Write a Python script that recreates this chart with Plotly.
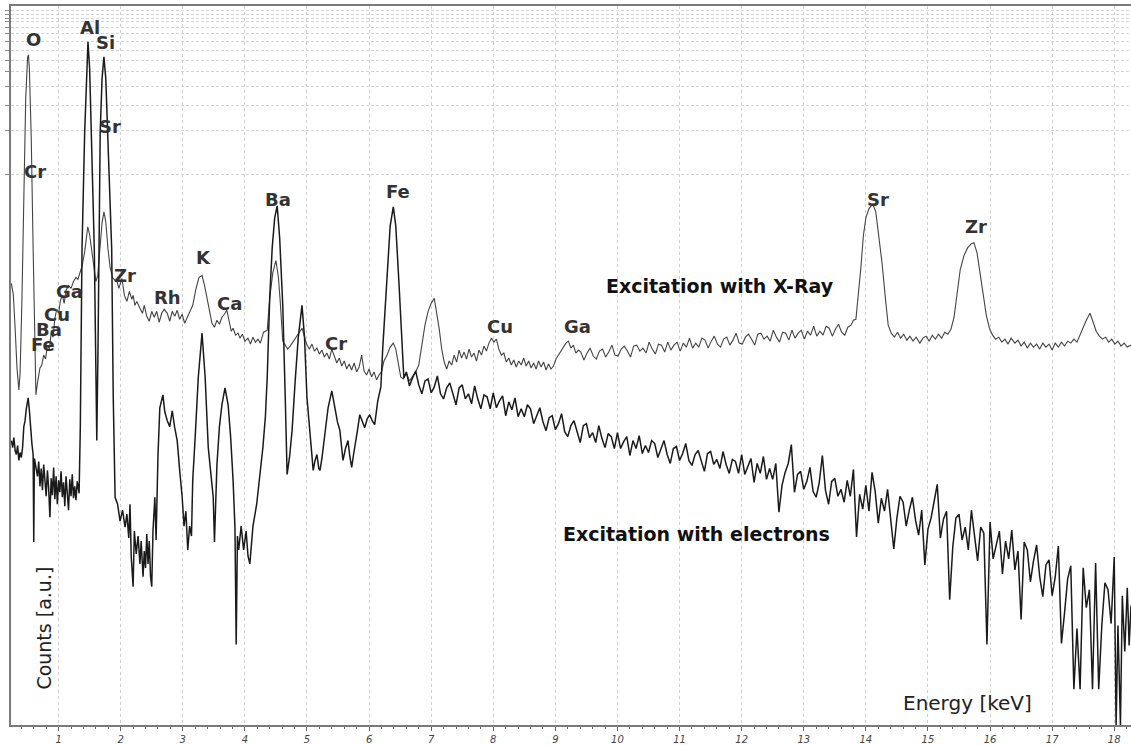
import plotly.graph_objects as go

# ---------------- data (energy in keV, counts in arbitrary units) ----------------
xray_energy = [
    0.24, 0.27, 0.30, 0.33, 0.36, 0.38, 0.41, 0.44, 0.47, 0.50, 0.515, 0.53, 0.56, 0.59, 0.61, 0.635,
    0.66, 0.70, 0.73, 0.76, 0.79, 0.82, 0.85, 0.88, 0.91, 0.94, 0.97, 1.00, 1.03, 1.06, 1.09, 1.12,
    1.16, 1.20, 1.24, 1.28, 1.31, 1.34, 1.38, 1.42, 1.45, 1.47, 1.50, 1.53, 1.56, 1.60, 1.63, 1.667,
    1.70, 1.73, 1.76, 1.795, 1.83, 1.87, 1.91, 1.94, 1.97, 2.02, 2.06, 2.10, 2.14, 2.18, 2.20, 2.23,
    2.26, 2.31, 2.35, 2.38, 2.42, 2.46, 2.50, 2.54, 2.58, 2.62, 2.66, 2.70, 2.75, 2.79, 2.83, 2.87,
    2.91, 2.95, 2.99, 3.03, 3.07, 3.11, 3.16, 3.21, 3.26, 3.31, 3.35, 3.39, 3.43, 3.47, 3.51, 3.55,
    3.59, 3.63, 3.67, 3.71, 3.74, 3.78, 3.81, 3.85, 3.89, 3.92, 3.96, 4.00, 4.05, 4.09, 4.13, 4.17,
    4.21, 4.25, 4.30, 4.36, 4.40, 4.45, 4.50, 4.54, 4.57, 4.61, 4.65, 4.69, 4.73, 4.78, 4.84, 4.92,
    4.97, 5.00, 5.04, 5.08, 5.12, 5.16, 5.20, 5.24, 5.28, 5.32, 5.36, 5.40, 5.44, 5.48, 5.52, 5.56,
    5.60, 5.64, 5.68, 5.72, 5.76, 5.80, 5.84, 5.88, 5.92, 5.96, 6.00, 6.04, 6.08, 6.12, 6.16, 6.20,
    6.24, 6.29, 6.34, 6.39, 6.43, 6.47, 6.51, 6.55, 6.60, 6.65, 6.70, 6.75, 6.80, 6.85, 6.90, 6.95,
    7.00, 7.05, 7.09, 7.13, 7.17, 7.21, 7.25, 7.29, 7.33, 7.37, 7.41, 7.45, 7.49, 7.53, 7.57, 7.61,
    7.65, 7.69, 7.73, 7.77, 7.81, 7.85, 7.89, 7.93, 7.97, 8.01, 8.05, 8.09, 8.13, 8.17, 8.21, 8.25,
    8.29, 8.33, 8.37, 8.41, 8.45, 8.49, 8.53, 8.57, 8.61, 8.65, 8.69, 8.73, 8.77, 8.81, 8.85, 8.89,
    8.93, 8.97, 9.01, 9.05, 9.09, 9.13, 9.17, 9.21, 9.25, 9.29, 9.33, 9.37, 9.41, 9.46, 9.51, 9.56,
    9.61, 9.66, 9.71, 9.76, 9.81, 9.86, 9.91, 9.96, 10.01, 10.06, 10.11, 10.16, 10.21, 10.26, 10.31, 10.36,
    10.41, 10.46, 10.51, 10.56, 10.61, 10.66, 10.71, 10.76, 10.81, 10.86, 10.91, 10.96, 11.01, 11.06, 11.11, 11.16,
    11.21, 11.26, 11.31, 11.36, 11.41, 11.46, 11.51, 11.56, 11.61, 11.66, 11.71, 11.76, 11.81, 11.86, 11.91, 11.96,
    12.01, 12.06, 12.11, 12.16, 12.21, 12.26, 12.31, 12.36, 12.41, 12.46, 12.51, 12.56, 12.61, 12.66, 12.71, 12.76,
    12.81, 12.86, 12.91, 12.96, 13.01, 13.06, 13.11, 13.16, 13.21, 13.26, 13.31, 13.36, 13.41, 13.46, 13.51, 13.56,
    13.61, 13.66, 13.71, 13.76, 13.80, 13.84, 13.88, 13.92, 13.96, 14.00, 14.05, 14.11, 14.16, 14.21, 14.26, 14.31,
    14.36, 14.41, 14.46, 14.51, 14.56, 14.61, 14.66, 14.71, 14.76, 14.81, 14.87, 14.92, 14.97, 15.02, 15.07, 15.12,
    15.17, 15.22, 15.27, 15.32, 15.37, 15.42, 15.47, 15.52, 15.58, 15.64, 15.70, 15.74, 15.79, 15.84, 15.89, 15.94,
    15.99, 16.04, 16.09, 16.14, 16.19, 16.24, 16.29, 16.34, 16.40, 16.45, 16.50, 16.55, 16.60, 16.65, 16.70, 16.75,
    16.80, 16.85, 16.90, 16.95, 17.00, 17.05, 17.10, 17.15, 17.20, 17.25, 17.30, 17.35, 17.40, 17.45, 17.50, 17.55,
    17.61, 17.66, 17.71, 17.76, 17.81, 17.86, 17.91, 17.96, 18.01, 18.06, 18.11, 18.16, 18.21, 18.27,
]
xray_counts = [
    444, 433, 399, 359, 337, 354, 429, 539, 629, 671, 674, 659, 589, 479, 399, 332,
    344, 359, 362, 372, 368, 382, 378, 394, 390, 409, 418, 414, 427, 432, 424, 437,
    442, 439, 446, 450, 448, 454, 462, 476, 492, 501, 493, 478, 462, 446, 452, 479,
    505, 516, 506, 479, 460, 450, 447, 446, 439, 449, 432, 426, 436, 428, 432, 422,
    426, 419, 414, 422, 411, 406, 416, 410, 416, 405, 414, 418, 414, 406, 416, 411,
    417, 408, 413, 404, 409, 415, 422, 438, 450, 452, 442, 429, 413, 404, 400, 407,
    403, 410, 413, 417, 408, 396, 399, 392, 394, 389, 393, 386, 389, 383, 390, 385,
    388, 384, 395, 397, 429, 455, 467, 450, 425, 386, 382, 378, 381, 386, 392, 399,
    388, 382, 378, 383, 376, 379, 373, 377, 370, 374, 368, 378, 371, 364, 369, 361,
    366, 358, 363, 357, 364, 355, 360, 372, 356, 352, 358, 350, 355, 347, 352, 355,
    366, 372, 380, 384, 378, 365, 350, 348, 354, 346, 351, 355, 362, 384, 402, 416,
    424, 429, 414, 398, 378, 365, 358, 366, 362, 372, 365, 377, 369, 375, 368, 378,
    370, 374, 366, 377, 372, 381, 376, 384, 389, 385, 388, 378, 372, 374, 365, 369,
    362, 367, 360, 366, 362, 369, 361, 366, 359, 364, 358, 366, 360, 365, 357, 363,
    358, 361, 368, 372, 376, 381, 384, 386, 379, 382, 374, 377, 375, 367, 374, 379,
    371, 368, 376, 378, 370, 375, 382, 372, 371, 378, 381, 376, 370, 381, 382, 376,
    379, 374, 385, 378, 373, 383, 382, 375, 385, 377, 382, 385, 376, 384, 380, 389,
    379, 384, 380, 389, 387, 379, 386, 391, 383, 380, 388, 390, 382, 387, 394, 384,
    383, 390, 393, 388, 382, 393, 394, 388, 391, 386, 397, 390, 385, 395, 394, 387,
    397, 389, 394, 397, 388, 396, 392, 401, 391, 396, 392, 401, 399, 391, 398, 403,
    395, 392, 400, 402, 407, 408, 432, 460, 492, 510, 519, 524, 516, 492, 465, 432,
    402, 394, 390, 395, 389, 393, 387, 391, 386, 390, 384, 389, 391, 386, 392, 388,
    393, 389, 395, 393, 398, 410, 432, 458, 472, 480, 484, 485, 475, 454, 430, 412,
    399, 392, 388, 390, 385, 388, 383, 389, 384, 387, 381, 385, 379, 384, 380, 383,
    378, 384, 380, 383, 377, 384, 380, 385, 381, 386, 384, 388, 385, 393, 399, 407,
    414, 405, 396, 391, 388, 390, 385, 388, 383, 386, 381, 384, 380, 382,
]

electron_energy = [
    0.24, 0.26, 0.28, 0.30, 0.32, 0.34, 0.36, 0.38, 0.40, 0.42, 0.44, 0.46, 0.48, 0.51, 0.53, 0.55,
    0.57, 0.59, 0.60, 0.61, 0.63, 0.66, 0.68, 0.70, 0.72, 0.74, 0.76, 0.78, 0.80, 0.82, 0.84, 0.86,
    0.88, 0.90, 0.92, 0.94, 0.96, 0.98, 1.00, 1.02, 1.04, 1.06, 1.08, 1.10, 1.12, 1.14, 1.16, 1.18,
    1.20, 1.22, 1.24, 1.26, 1.28, 1.30, 1.33, 1.35, 1.377, 1.42, 1.45, 1.473, 1.50, 1.53, 1.575, 1.60,
    1.615, 1.635, 1.65, 1.67, 1.70, 1.73, 1.76, 1.79, 1.855, 1.88, 1.91, 1.95, 1.99, 2.03, 2.07, 2.10,
    2.13, 2.15, 2.17, 2.20, 2.22, 2.25, 2.28, 2.31, 2.33, 2.36, 2.38, 2.40, 2.42, 2.44, 2.46, 2.48,
    2.50, 2.52, 2.55, 2.57, 2.60, 2.63, 2.68, 2.71, 2.75, 2.79, 2.83, 2.87, 2.91, 2.95, 2.99, 3.02,
    3.05, 3.08, 3.11, 3.14, 3.16, 3.20, 3.25, 3.31, 3.36, 3.41, 3.45, 3.49, 3.51, 3.53, 3.55, 3.59,
    3.63, 3.68, 3.73, 3.77, 3.81, 3.84, 3.86, 3.88, 3.90, 3.94, 3.98, 4.02, 4.05, 4.08, 4.13, 4.19,
    4.24, 4.29, 4.33, 4.36, 4.40, 4.44, 4.48, 4.52, 4.56, 4.61, 4.65, 4.68, 4.72, 4.76, 4.81, 4.86,
    4.92, 4.96, 5.00, 5.05, 5.08, 5.10, 5.13, 5.16, 5.19, 5.21, 5.24, 5.26, 5.30, 5.34, 5.40, 5.45,
    5.49, 5.53, 5.56, 5.58, 5.62, 5.66, 5.69, 5.72, 5.75, 5.77, 5.81, 5.85, 5.89, 5.93, 5.97, 6.01,
    6.05, 6.09, 6.14, 6.19, 6.22, 6.26, 6.29, 6.34, 6.39, 6.43, 6.48, 6.53, 6.56,
    6.60, 6.65, 6.70, 6.75, 6.80, 6.85, 6.90, 6.95, 7.00, 7.05, 7.10, 7.15, 7.20, 7.25, 7.30, 7.35,
    7.40, 7.45, 7.50, 7.55, 7.60, 7.65, 7.70, 7.75, 7.80, 7.85, 7.90, 7.95, 8.00, 8.05, 8.10, 8.15,
    8.20, 8.25, 8.30, 8.35, 8.40, 8.45, 8.50, 8.55, 8.60, 8.65, 8.70, 8.75, 8.80, 8.85, 8.90, 8.95,
    9.00, 9.05, 9.10, 9.15, 9.20, 9.25, 9.30, 9.35, 9.40, 9.45, 9.50, 9.55, 9.60, 9.65, 9.70, 9.75,
    9.80, 9.85, 9.90, 9.95, 10.00, 10.05, 10.10, 10.15, 10.20, 10.25, 10.30, 10.35, 10.40, 10.45, 10.50, 10.55,
    10.60, 10.65, 10.70, 10.75, 10.80, 10.85, 10.90, 10.95, 11.00, 11.05, 11.10, 11.15, 11.20, 11.25, 11.30, 11.35,
    11.40, 11.45, 11.50, 11.55, 11.60, 11.65, 11.70, 11.75, 11.80, 11.85, 11.90, 11.95, 12.00, 12.05, 12.10, 12.15,
    12.20, 12.25, 12.30, 12.35, 12.40, 12.45, 12.50, 12.55, 12.60, 12.65, 12.70, 12.75, 12.80, 12.85, 12.90, 12.95,
    13.00, 13.05, 13.10, 13.15, 13.20, 13.25, 13.30, 13.35, 13.40, 13.45, 13.50, 13.55, 13.60, 13.65, 13.70, 13.75,
    13.80, 13.85, 13.90, 13.95, 14.00, 14.05, 14.10, 14.15, 14.20, 14.25, 14.30, 14.35, 14.40, 14.45, 14.50, 14.55,
    14.60, 14.65, 14.70, 14.75, 14.80, 14.85, 14.90, 14.95, 15.00, 15.05, 15.10, 15.15, 15.20, 15.25, 15.30, 15.35,
    15.40, 15.45, 15.50, 15.55, 15.60, 15.65, 15.70, 15.75, 15.80, 15.85, 15.90, 15.95, 16.00, 16.05, 16.10, 16.15,
    16.20, 16.25, 16.30, 16.35, 16.40, 16.45, 16.50, 16.55, 16.60, 16.65, 16.70, 16.75, 16.80, 16.85, 16.90, 16.95,
    17.00, 17.05, 17.10, 17.15, 17.20, 17.25, 17.30, 17.35, 17.40, 17.45, 17.50, 17.55, 17.60, 17.65, 17.70, 17.75,
    17.80, 17.85, 17.90, 17.95, 18.00, 18.03, 18.06, 18.10, 18.13, 18.17, 18.21, 18.24, 18.27,
]
electron_counts = [
    286, 279, 289, 276, 272, 281, 266, 274, 269, 279, 300, 306, 318, 329, 316, 296,
    283, 272, 184, 268, 262, 250, 265, 240, 258, 236, 262, 244, 230, 256, 238, 209,
    248, 231, 259, 227, 250, 222, 246, 234, 255, 229, 244, 220, 250, 233, 216, 247,
    230, 252, 228, 240, 226, 245, 233, 300, 479, 596, 660, 687, 660, 596, 479, 360,
    286, 380, 479, 596, 650, 672, 650, 596, 479, 330, 229, 222, 205, 216, 199, 212,
    188, 222, 169, 139, 195, 172, 190, 162, 185, 149, 175, 158, 192, 162, 185, 150,
    139, 195, 229, 186, 270, 319, 332, 315, 306, 300, 316, 299, 286, 256, 229, 200,
    215, 176, 200, 190, 246, 290, 350, 394, 350, 279, 250, 229, 184, 215, 262, 300,
    322, 339, 322, 290, 246, 199, 81, 190, 176, 200, 176, 195, 170, 162, 200, 222,
    250, 279, 310, 350, 430, 480, 510, 522, 490, 422, 329, 252, 270, 296, 346, 390,
    422, 390, 329, 296, 270, 256, 266, 272, 258, 256, 268, 279, 300, 319, 336, 319,
    305, 296, 280, 266, 278, 286, 270, 259, 272, 279, 295, 312, 305, 299, 308, 312,
    306, 302, 326, 340, 379, 420, 446, 502, 521, 502, 446, 379, 349,
    355, 341, 349, 356, 342, 333, 346, 348, 334, 340, 351, 333, 328, 339, 344, 333,
    322, 339, 342, 328, 333, 323, 341, 328, 318, 332, 330, 318, 334, 319, 326, 331,
    311, 325, 317, 329, 310, 318, 310, 322, 318, 303, 312, 319, 305, 296, 309, 311,
    297, 303, 313, 295, 290, 301, 306, 295, 284, 301, 303, 289, 294, 284, 301, 288,
    279, 293, 290, 278, 294, 278, 285, 290, 271, 286, 278, 291, 273, 281, 274, 286,
    283, 269, 278, 286, 272, 263, 278, 280, 266, 273, 283, 266, 261, 272, 276, 266,
    255, 273, 275, 262, 267, 258, 275, 262, 253, 267, 265, 253, 272, 252, 260, 268,
    244, 263, 253, 270, 247, 258, 247, 263, 214, 241, 254, 263, 282, 234, 252, 255,
    237, 245, 259, 235, 229, 244, 271, 236, 222, 245, 248, 230, 237, 224, 246, 230,
    257, 189, 232, 217, 241, 215, 254, 235, 203, 228, 215, 237, 207, 177, 208, 230,
    224, 200, 216, 229, 206, 191, 216, 161, 197, 208, 225, 242, 188, 207, 215, 126,
    179, 208, 212, 186, 199, 176, 216, 188, 165, 199, 193, 81, 204, 167, 182, 195,
    152, 185, 167, 196, 156, 175, 106, 184, 176, 144, 165, 181, 149, 129, 161, 166,
    130, 149, 180, 82, 113, 147, 160, 36, 97, 36, 158, 118, 136, 36, 163, 36,
    100, 143, 136, 102, 169, 0, 100, 0, 130, 74, 138, 80, 120,
]

# peak labels
peak_names = ["O", "Al", "Si", "Sr", "Cr", "Ga", "Cu", "Ba", "Fe", "Zr", "Rh", "K", "Ca",
              "Ba", "Fe", "Cr", "Cu", "Ga", "Sr", "Zr"]
peak_energy = [0.59, 1.50, 1.75, 1.83, 0.62, 1.17, 0.97, 0.85, 0.75, 2.07, 2.76, 3.34, 3.76,
               4.53, 6.47, 5.47, 8.11, 9.35, 14.20, 15.77]
peak_counts = [689, 701, 686, 602, 557, 436, 413, 398, 383, 452, 430, 470, 424,
               528, 536, 384, 401, 401, 528, 501]

# axis ticks
energy_ticks = list(range(1, 19))
grid_levels = [718, 714, 710, 707, 701, 695, 687, 678, 668, 657, 642, 623, 598, 554]

label_font = dict(family="DejaVu Sans", size=18, color="#333333", weight="bold")
title_font = dict(family="DejaVu Sans", size=19, color="#111111", weight="bold")

fig = go.Figure()
fig.add_trace(go.Scatter(x=xray_energy, y=xray_counts, mode="lines",
                         line=dict(color="#444444", width=1.1), name="Excitation with X-Ray",
                         showlegend=False, hoverinfo="skip"))
fig.add_trace(go.Scatter(x=electron_energy, y=electron_counts, mode="lines",
                         line=dict(color="#1a1a1a", width=1.5), name="Excitation with electrons",
                         showlegend=False, hoverinfo="skip"))

annotations = []
for name, e, c in zip(peak_names, peak_energy, peak_counts):
    annotations.append(dict(x=e, y=c, text=name, showarrow=False, font=label_font,
                            xanchor="center", yanchor="middle"))

annotations += [
    dict(x=11.65, y=441, text="Excitation with X-Ray", showarrow=False, font=title_font),
    dict(x=11.28, y=192, text="Excitation with electrons", showarrow=False, font=title_font),
    dict(x=0.75, y=97, text="Counts [a.u.]", showarrow=False, textangle=-90,
         font=dict(family="DejaVu Sans", size=19, color="#222222")),
    dict(x=15.64, y=22, text="Energy [keV]", showarrow=False,
         font=dict(family="DejaVu Sans", size=20, color="#222222")),
]

fig.update_layout(
    width=1131, height=745,
    margin=dict(l=11, r=0, t=6, b=16),
    paper_bgcolor="white", plot_bgcolor="white",
    annotations=annotations,
    showlegend=False,
    xaxis=dict(
        range=[0.2335, 18.27], tickvals=energy_ticks, ticktext=[str(t) for t in energy_ticks],
        ticks="outside", ticklen=4, tickcolor="#666666",
        tickfont=dict(family="DejaVu Sans", size=10, color="#444444", style="italic"),
        showgrid=True, gridcolor="#cfcfcf", griddash="3px,3px", gridwidth=1,
        minor=dict(dtick=0.2, tick0=0, ticks="outside", ticklen=2, tickcolor="#666666", showgrid=False),
        showline=True, linecolor="#7a7a7a", linewidth=2, mirror=True, zeroline=False,
    ),
    yaxis=dict(
        range=[0, 723], tickvals=grid_levels, showticklabels=False,
        ticks="outside", ticklen=4, tickcolor="#888888",
        showgrid=True, gridcolor="#d4d4d4", griddash="3px,2px", gridwidth=1,
        showline=True, linecolor="#7a7a7a", linewidth=1.5, zeroline=False,
    ),
)

fig.write_html("out.html", config={"displayModeBar": False},
               post_script="document.body.style.margin='0px';document.body.style.overflow='hidden';")
